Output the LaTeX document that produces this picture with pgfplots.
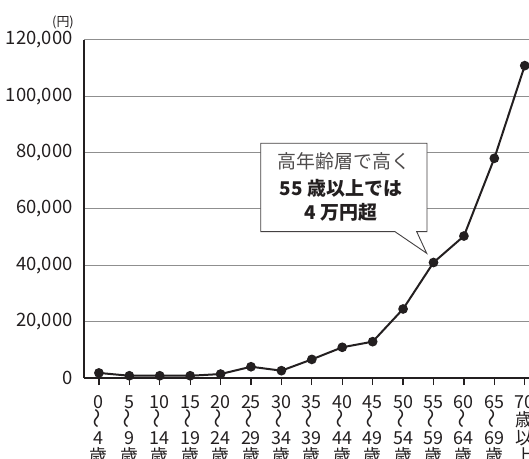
\documentclass[border=0pt]{standalone}
\usepackage{fontspec}
\setmainfont{Noto Sans CJK JP}
\usepackage{graphicx}
\usepackage{pgfplots}
\pgfplotsset{compat=1.18}
\definecolor{txt}{HTML}{231F20}
\definecolor{grd}{HTML}{8F8F8F}
\newcommand{\wv}{\smash{\raisebox{3bp}{\rotatebox[origin=c]{90}{\fontsize{20}{20}\selectfont 〜}}}}

\begin{document}
\begin{tikzpicture}[x=1bp,y=1bp]
\useasboundingbox (-84,-81) rectangle (445,378);
\begin{axis}[at={(0,0)}, anchor=south west, scale only axis,
  width=445bp, height=338bp,
  xmin=-0.49, xmax=14.14, ymin=0, ymax=120000,
  axis lines*=left,
  axis line style={txt, line width=2bp},
  ytick={0,20000,40000,60000,80000,100000,120000},
  yticklabels={0,{20,000},{40,000},{60,000},{80,000},{100,000},{120,000}},
  ymajorgrids, grid style={grd, line width=1bp},
  scaled y ticks=false,
  yticklabel style={font=\fontsize{18.5}{18.5}\selectfont, text=txt, xshift=-1bp},
  ytick style={draw=none},
  xtick={0,...,14},
  xticklabels={
    {0\\\wv\\4\\歳},{5\\\wv\\9\\歳},{10\\\wv\\14\\歳},{15\\\wv\\19\\歳},
    {20\\\wv\\24\\歳},{25\\\wv\\29\\歳},{30\\\wv\\34\\歳},{35\\\wv\\39\\歳},
    {40\\\wv\\44\\歳},{45\\\wv\\49\\歳},{50\\\wv\\54\\歳},{55\\\wv\\59\\歳},
    {60\\\wv\\64\\歳},{65\\\wv\\69\\歳},{70\\歳\\以\\上}},
  xticklabel style={align=center, font=\fontsize{18}{18}\selectfont, text=txt, yshift=-7bp},
  tick align=outside, major tick length=7bp,
  xtick style={draw=txt, line width=1.2bp},
  clip=false,
]
\addplot[txt, line width=2bp, mark=*, mark size=3.8bp] coordinates {
  (0,1800) (1,800) (2,800) (3,800) (4,1400) (5,4000) (6,2600) (7,6600)
  (8,10900) (9,12900) (10,24500) (11,41000) (12,50400) (13,78000) (14,110900)
};
\end{axis}
% callout
\draw[txt!85, line width=0.9bp, fill=white]
  (260.7-84,378-143.3) -- (427-84,378-143.3) -- (427-84,378-231.7)
  -- (416.7-84,378-231.7) -- (426.7-84,378-253.3) -- (395-84,378-231.7)
  -- (260.7-84,378-231.7) -- cycle;
\node[anchor=base, text=txt!80, font=\fontsize{19}{19}\selectfont, inner sep=0] at (343.8-84,378-169) {高年齢層で高く};
\node[anchor=base, text=txt, font=\fontsize{19}{19}\selectfont\bfseries, inner sep=0] at (341-84,378-196) {55 歳以上では};
\node[anchor=base, text=txt, font=\fontsize{19}{19}\selectfont\bfseries, inner sep=0] at (341-84,378-220) {4 万円超};
\node[text=txt, font=\fontsize{13}{13}\selectfont, inner sep=0] at (63-84,378-22) {(円)};
\end{tikzpicture}
\end{document}
